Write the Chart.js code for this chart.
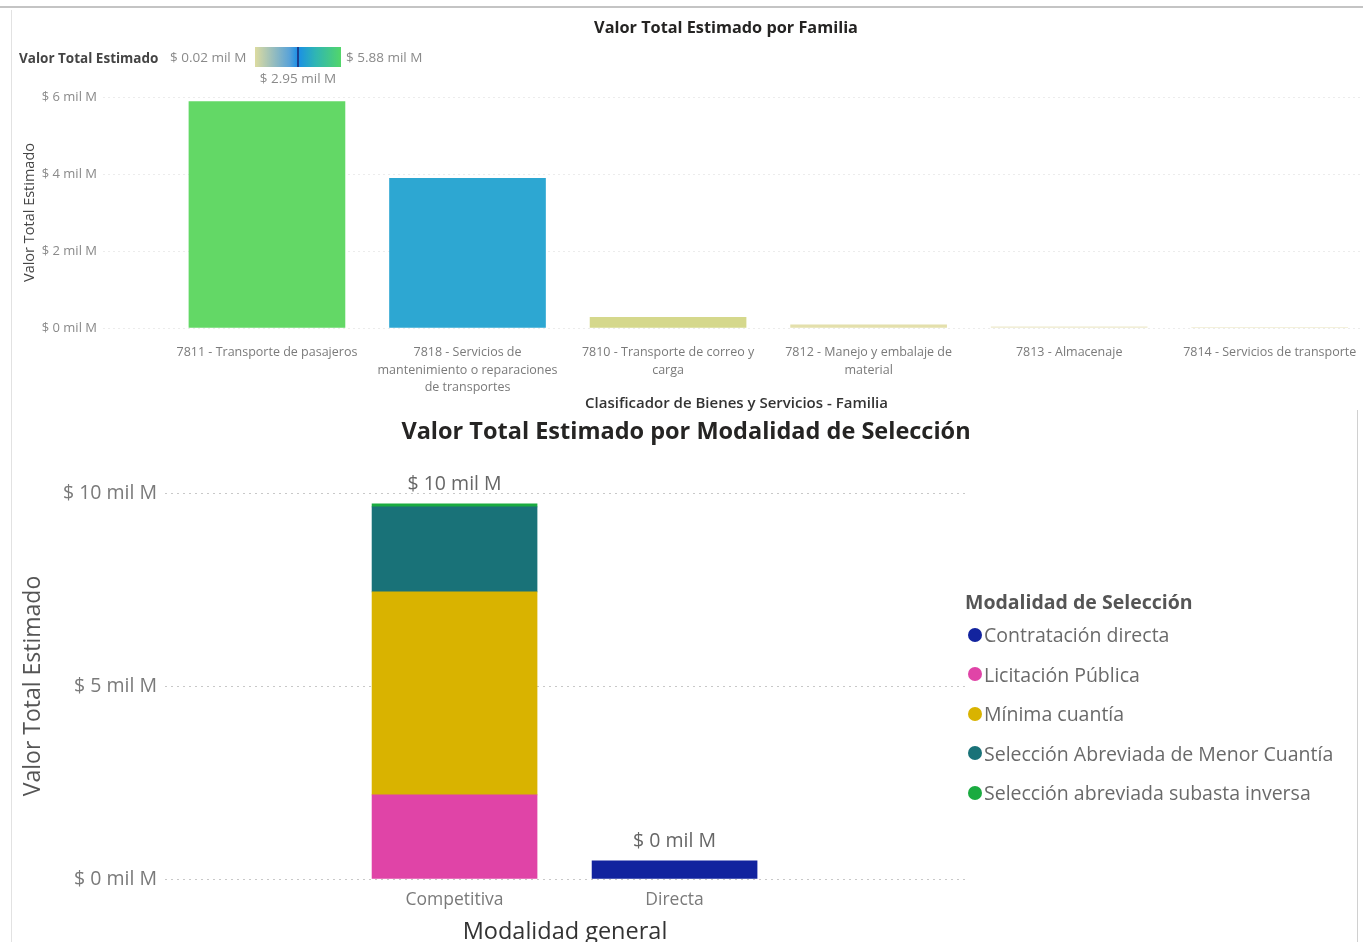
<!DOCTYPE html>
<html lang="es">
<head>
<meta charset="utf-8">
<title>Valor Total Estimado</title>
<script src="https://cdn.jsdelivr.net/npm/chart.js@4.4.1/dist/chart.umd.min.js"></script>
<style>
  html, body { margin: 0; padding: 0; background: #fff; }
  body { width: 1363px; height: 942px; overflow: hidden; position: relative; font-family: "Open Sans", "Noto Sans", sans-serif; }
  .abs { position: absolute; white-space: nowrap; line-height: 1.2; }
  #lineaSuperior { left: 0; top: 6px; width: 1363px; height: 2px; background: #c4c4c4; }
  #bordeIzq { left: 11px; top: 10px; width: 1px; height: 932px; background: #e2e2e2; }
  #bordeDer { left: 1357px; top: 410px; width: 1px; height: 532px; background: #d0d0d0; }
  #cajaFamilia { left: 0; top: 10px; }
  #cajaModalidad { left: 0; top: 410px; }
  .titulo1 { top: 18px; left: 726px; transform: translateX(-50%); font-size: 16.3px; font-weight: 700; color: #252423; }
  .titulo2 { top: 416px; left: 686px; transform: translateX(-50%); font-size: 23.5px; font-weight: 700; color: #252423; }
  #gradLeyenda { top: 48px; left: 19px; }
  #gradLeyenda b { color: #444; font-size: 13.5px; }
  #gradBarra { left: 255px; top: 47px; width: 86px; height: 20px;
    background: linear-gradient(to right, #dcdba0 0%, #5aa3d8 40%, #1a8fe6 50%, #2fb5b4 70%, #52d66a 100%); }
  #gradMarca { left: 297px; top: 47px; width: 2px; height: 20px; background: #1b3f8f; }
  #gradMin { left: 170px; top: 49px; font-size: 13.5px; color: #8a8a8a; }
  #gradMax { left: 346px; top: 49px; font-size: 13.5px; color: #8a8a8a; }
  #gradMed { left: 298px; top: 70px; transform: translateX(-50%); font-size: 13.5px; color: #8a8a8a; }
  #leyendaModalidad { left: 965px; top: 589px; }
  #leyendaModalidad .cab { font-size: 19.5px; font-weight: 700; color: #555; height: 26px; line-height: 26px; }
  #leyendaModalidad .item { font-size: 19.5px; color: #6a6a6a; height: 39.5px; line-height: 39.5px; display: flex; align-items: center; }
  #leyendaModalidad .punto { width: 14px; height: 14px; border-radius: 50%; margin: 0 2px 0 3px; flex: none; }
</style>
</head>
<body>
<div class="abs" id="lineaSuperior"></div>
<div class="abs" id="bordeIzq"></div>
<div class="abs" id="bordeDer"></div>

<div class="abs" id="cajaFamilia"><canvas id="graficoFamilia" width="1380" height="412"></canvas></div>
<div class="abs titulo1">Valor Total Estimado por Familia</div>
<div class="abs" id="gradLeyenda"><b>Valor Total Estimado</b></div>
<div class="abs" id="gradMin"></div>
<div class="abs" id="gradBarra"></div>
<div class="abs" id="gradMarca"></div>
<div class="abs" id="gradMax"></div>
<div class="abs" id="gradMed"></div>

<div class="abs" id="cajaModalidad"><canvas id="graficoModalidad" width="975" height="532"></canvas></div>
<div class="abs titulo2">Valor Total Estimado por Modalidad de Selección</div>
<div class="abs" id="leyendaModalidad"></div>

<script>
// Valor total estimado por familia (miles de millones)
const familias = [
  ['7811 - Transporte de pasajeros'],
  ['7818 - Servicios de', 'mantenimiento o reparaciones', 'de transportes'],
  ['7810 - Transporte de correo y', 'carga'],
  ['7812 - Manejo y embalaje de', 'material'],
  ['7813 - Almacenaje'],
  ['7814 - Servicios de transporte']
];
const valorFamilia = [5.88, 3.89, 0.28, 0.08, 0.03, 0.02];
const ticksFamilia = [0, 2, 4, 6];

// Valor total estimado por modalidad (miles de millones)
const modalidadGeneral = ['Competitiva', 'Directa'];
const modalidadSeleccion = [
  'Contratación directa',
  'Licitación Pública',
  'Mínima cuantía',
  'Selección Abreviada de Menor Cuantía',
  'Selección abreviada subasta inversa'
];
const contratacionDirecta = [null, 0.47];
const licitacionPublica = [2.18, null];
const minimaCuantia = [5.26, null];
const menorCuantia = [2.20, null];
const subastaInversa = [0.08, null];
const ticksModalidad = [0, 5, 10];

// colores
const coloresFamilia = ['#63D866', '#2DA7D2', '#D5D88C', '#E4E0AC', '#EEEACB', '#F0ECD0'];
const coloresModalidad = ['#12239E', '#E044A7', '#D9B300', '#197278', '#1AAB40'];

const fuente = '"Open Sans", "Noto Sans", sans-serif';
Chart.defaults.font.family = fuente;

const fmtMil = v => '$ ' + v + ' mil M';

// leyenda de gradiente (min, medio, max de los datos)
const vMin = Math.min(...valorFamilia), vMax = Math.max(...valorFamilia);
document.getElementById('gradMin').textContent = fmtMil(vMin.toFixed(2));
document.getElementById('gradMax').textContent = fmtMil(vMax.toFixed(2));
document.getElementById('gradMed').textContent = fmtMil(((vMin + vMax) / 2).toFixed(2));

// Gráfica 1: por familia
new Chart(document.getElementById('graficoFamilia'), {
  type: 'bar',
  data: {
    datasets: [{
      label: 'Valor Total Estimado',
      data: valorFamilia.map((v, i) => ({ x: i, y: v })),
      backgroundColor: coloresFamilia,
      barThickness: 156
    }]
  },
  options: {
    responsive: false,
    animation: false,
    layout: { padding: { top: 87, right: 10, left: 0, bottom: 0 } },
    plugins: { legend: { display: false }, tooltip: { enabled: false } },
    scales: {
      x: {
        type: 'linear',
        offset: false,
        min: -0.8175,
        max: 5.5,
        afterBuildTicks: s => { s.ticks = familias.map((_, i) => ({ value: i })); },
        afterFit: s => { s.height = 94; },
        grid: { display: false, drawTicks: false },
        border: { display: false },
        ticks: {
          autoSkip: false, maxRotation: 0, padding: 16, color: '#7a7a7a',
          font: { size: 12.5, lineHeight: 1.4 },
          callback: v => familias[v]
        },
        title: {
          display: true, text: 'Clasificador de Bienes y Servicios - Familia',
          color: '#333', font: { size: 15, weight: '600', lineHeight: 1 }, padding: { top: 0, bottom: 11 }
        }
      },
      y: {
        min: 0,
        max: 6,
        afterBuildTicks: s => { s.ticks = ticksFamilia.map(v => ({ value: v })); },
        afterFit: s => { s.width = 103; },
        grid: { color: '#ececec', drawTicks: false },
        border: { display: false, dash: [2, 3] },
        ticks: { padding: 6, color: '#8a8a8a', font: { size: 13 }, callback: v => fmtMil(v) },
        title: {
          display: true, text: 'Valor Total Estimado',
          color: '#444', font: { size: 14.5 }, padding: { top: 21, bottom: 0 }
        }
      }
    }
  }
});

// Gráfica 2: por modalidad
const seriesModalidad = [contratacionDirecta, licitacionPublica, minimaCuantia, menorCuantia, subastaInversa];

const etiquetasTotales = {
  id: 'etiquetasTotales',
  afterDatasetsDraw(chart) {
    const { ctx, scales: { x, y } } = chart;
    ctx.save();
    ctx.font = '19.5px ' + fuente;
    ctx.fillStyle = '#666';
    ctx.textAlign = 'center';
    ctx.textBaseline = 'middle';
    modalidadGeneral.forEach((_, i) => {
      const total = seriesModalidad.reduce((s, serie) => s + (serie[i] || 0), 0);
      ctx.fillText(fmtMil(Math.round(total)), x.getPixelForValue(i), y.getPixelForValue(total) - 19);
    });
    ctx.restore();
  }
};

new Chart(document.getElementById('graficoModalidad'), {
  type: 'bar',
  data: {
    datasets: seriesModalidad.map((serie, k) => ({
      label: modalidadSeleccion[k],
      data: serie.map((v, i) => ({ x: i, y: v })).filter(p => p.y !== null),
      backgroundColor: coloresModalidad[k],
      barThickness: 165
    }))
  },
  options: {
    responsive: false,
    animation: false,
    layout: { padding: { top: 83, right: 10, left: 0, bottom: 0 } },
    plugins: { legend: { display: false }, tooltip: { enabled: false } },
    scales: {
      x: {
        type: 'linear',
        offset: false,
        stacked: true,
        min: -1.316,
        max: 2.32,
        afterBuildTicks: s => { s.ticks = modalidadGeneral.map((_, i) => ({ value: i })); },
        afterFit: s => { s.height = 63; },
        grid: { display: false, drawTicks: false },
        border: { display: false },
        ticks: { autoSkip: false, maxRotation: 0, padding: 10.5, color: '#7a7a7a', font: { size: 17.5 }, callback: v => modalidadGeneral[v] },
        title: { display: true, text: 'Modalidad general', color: '#333', font: { size: 23.5, lineHeight: 0.85 }, padding: { top: 0, bottom: 0 } }
      },
      y: {
        stacked: true,
        min: 0,
        max: 10,
        afterBuildTicks: s => { s.ticks = ticksModalidad.map(v => ({ value: v })); },
        afterFit: s => { s.width = 165; },
        grid: { color: '#c8c8c8', drawTicks: false },
        border: { display: false, dash: [2, 4] },
        ticks: { padding: 8, color: '#7a7a7a', font: { size: 19.5 }, callback: v => fmtMil(v) },
        title: { display: true, text: 'Valor Total Estimado', color: '#555', font: { size: 23 }, padding: { top: 20, bottom: 0 } }
      }
    }
  },
  plugins: [etiquetasTotales]
});

// leyenda modalidad
const leyenda = document.getElementById('leyendaModalidad');
leyenda.innerHTML = '<div class="cab">Modalidad de Selección</div>' +
  modalidadSeleccion.map((m, k) =>
    '<div class="item"><span class="punto" style="background:' + coloresModalidad[k] + '"></span>' + m + '</div>'
  ).join('');
</script>
</body>
</html>
